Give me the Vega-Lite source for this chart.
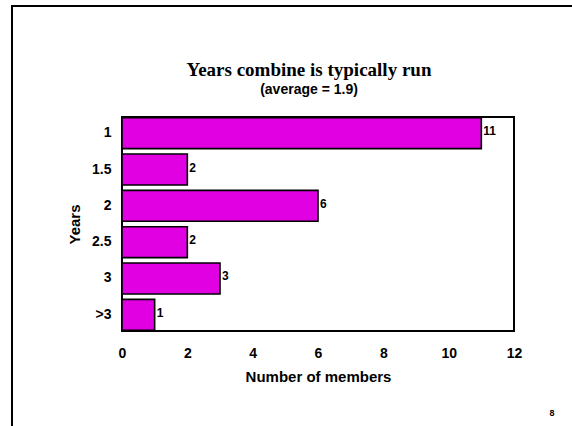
{
  "$schema": "https://vega.github.io/schema/vega-lite/v6.json",
  "width": 392,
  "height": 214,
  "autosize": "none",
  "padding": {"left": 122, "top": 117, "right": 58, "bottom": 95},
  "background": "white",
  "title": {
    "text": "Years combine is typically run",
    "subtitle": "(average = 1.9)",
    "anchor": "middle",
    "frame": "group",
    "dx": -9,
    "offset": -92,
    "font": "Liberation Serif",
    "fontSize": 19,
    "fontWeight": "bold",
    "color": "black",
    "subtitleFont": "Liberation Sans",
    "subtitleFontSize": 14,
    "subtitleFontWeight": "bold",
    "subtitleColor": "black",
    "subtitlePadding": 3
  },
  "data": {
    "values": [
      {"years": "1", "members": 11},
      {"years": "1.5", "members": 2},
      {"years": "2", "members": 6},
      {"years": "2.5", "members": 2},
      {"years": "3", "members": 3},
      {"years": ">3", "members": 1}
    ]
  },
  "layer": [
    {
      "mark": {"type": "bar", "color": "#e100e1", "stroke": "black", "strokeWidth": 1.6},
      "encoding": {
        "y": {
          "field": "years",
          "type": "nominal",
          "sort": ["1", "1.5", "2", "2.5", "3", ">3"],
          "scale": {"paddingInner": 0.15, "paddingOuter": 0.02},
          "axis": {
            "title": "Years",
            "titleFont": "Liberation Sans",
            "titleFontSize": 15,
            "titleFontWeight": "bold",
            "titleColor": "black",
            "titlePadding": 9,
            "labelFont": "Liberation Sans",
            "labelFontSize": 14,
            "labelFontWeight": "bold",
            "labelColor": "black",
            "labelPadding": 11,
            "ticks": false,
            "domain": false
          }
        },
        "x": {
          "field": "members",
          "type": "quantitative",
          "scale": {"domain": [0, 12], "nice": false},
          "axis": {
            "values": [0, 2, 4, 6, 8, 10, 12],
            "title": "Number of members",
            "titleFont": "Liberation Sans",
            "titleFontSize": 15,
            "titleFontWeight": "bold",
            "titleColor": "black",
            "titlePadding": 9,
            "labelFont": "Liberation Sans",
            "labelFontSize": 14,
            "labelFontWeight": "bold",
            "labelColor": "black",
            "labelPadding": 15,
            "labelFlush": false,
            "ticks": false,
            "domain": false,
            "grid": false
          }
        }
      }
    },
    {
      "mark": {
        "type": "text",
        "align": "left",
        "baseline": "middle",
        "dx": 2,
        "dy": -2,
        "font": "Liberation Sans",
        "fontSize": 12,
        "fontWeight": "bold",
        "color": "black"
      },
      "encoding": {
        "y": {"field": "years", "type": "nominal", "sort": ["1", "1.5", "2", "2.5", "3", ">3"]},
        "x": {"field": "members", "type": "quantitative"},
        "text": {"field": "members", "type": "quantitative"}
      }
    },
    {
      "data": {"values": [{"edge": "left"}]},
      "mark": {"type": "rule", "color": "black", "strokeWidth": 2, "clip": false},
      "encoding": {
        "x": {"value": -110},
        "y": {"value": -111},
        "y2": {"value": 320}
      }
    },
    {
      "data": {"values": [{"edge": "top"}]},
      "mark": {"type": "rule", "color": "black", "strokeWidth": 2, "clip": false},
      "encoding": {
        "x": {"value": -111},
        "x2": {"value": 460},
        "y": {"value": -111}
      }
    },
    {
      "data": {"values": [{"page": "8"}]},
      "mark": {
        "type": "text",
        "align": "center",
        "baseline": "middle",
        "font": "Liberation Sans",
        "fontSize": 9,
        "fontWeight": "bold",
        "color": "black"
      },
      "encoding": {
        "x": {"value": 430},
        "y": {"value": 296},
        "text": {"field": "page"}
      }
    }
  ],
  "config": {
    "view": {"stroke": "black", "strokeWidth": 2}
  }
}
